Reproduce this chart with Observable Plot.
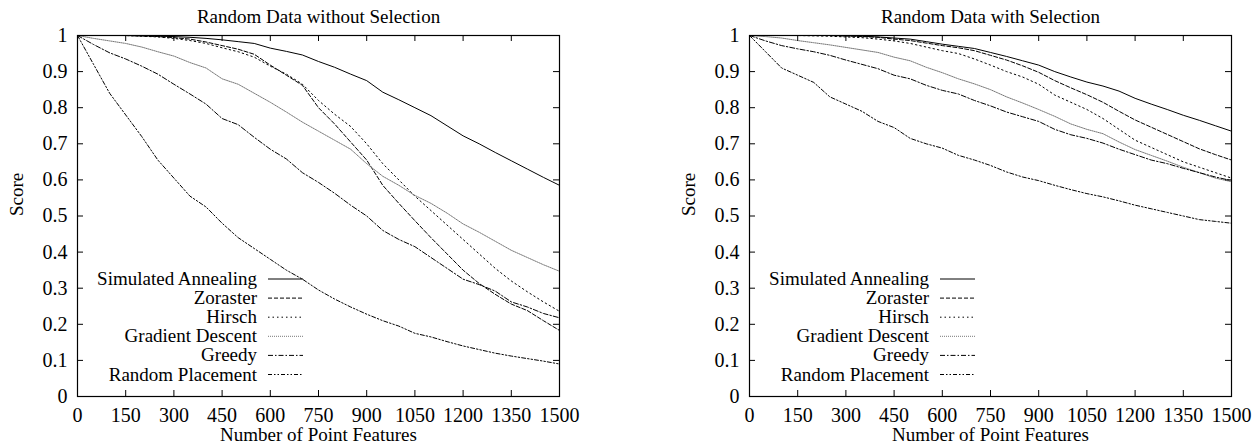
<!DOCTYPE html>
<html><head><meta charset="utf-8">
<script src="https://cdn.jsdelivr.net/npm/d3@7"></script>
<script src="https://cdn.jsdelivr.net/npm/@observablehq/plot@0.6"></script>
<style>
body{margin:0;background:#fff;}
#wrap{display:flex;width:1258px;height:444px;background:#fff;}
</style></head><body><div id="wrap"></div>
<script>
const features = [0,50,100,150,200,250,300,350,400,450,500,550,600,650,700,750,800,850,900,950,1000,1050,1100,1150,1200,1250,1300,1350,1400,1450,1500];
const seriesNames = ["Simulated Annealing","Zoraster","Hirsch","Gradient Descent","Greedy","Random Placement"];
const xTicks = [0,150,300,450,600,750,900,1050,1200,1350,1500];
const yTicks = [0,0.1,0.2,0.3,0.4,0.5,0.6,0.7,0.8,0.9,1];
const titles = ["Random Data without Selection","Random Data with Selection"];
const xLabel = "Number of Point Features";
const yLabel = "Score";

// Random Data without Selection
const noSelSA   = [1,1,1,1,0.999,0.998,0.997,0.995,0.992,0.988,0.983,0.978,0.965,0.956,0.946,0.928,0.912,0.893,0.875,0.843,0.822,0.8,0.778,0.75,0.722,0.7,0.676,0.653,0.63,0.607,0.585];
const noSelZor  = [1,1,1,1,0.999,0.997,0.994,0.99,0.982,0.972,0.962,0.948,0.918,0.89,0.862,0.8,0.755,0.705,0.655,0.585,0.535,0.487,0.44,0.395,0.35,0.313,0.283,0.256,0.238,0.21,0.183];
const noSelHir  = [1,1,1,1,0.998,0.996,0.992,0.986,0.978,0.966,0.955,0.94,0.915,0.893,0.865,0.82,0.782,0.748,0.7,0.645,0.6,0.555,0.515,0.475,0.435,0.395,0.355,0.32,0.29,0.262,0.236];
const noSelGD   = [1,0.992,0.985,0.978,0.968,0.955,0.943,0.925,0.91,0.88,0.865,0.84,0.815,0.788,0.76,0.735,0.71,0.685,0.645,0.61,0.585,0.557,0.535,0.508,0.478,0.455,0.43,0.405,0.385,0.365,0.347];
const noSelGr   = [1,0.975,0.952,0.935,0.915,0.893,0.865,0.838,0.81,0.77,0.753,0.718,0.685,0.658,0.62,0.593,0.563,0.53,0.5,0.46,0.435,0.415,0.385,0.355,0.325,0.31,0.292,0.262,0.248,0.23,0.218];
const noSelRand = [1,0.92,0.84,0.78,0.72,0.655,0.605,0.555,0.525,0.48,0.44,0.41,0.38,0.35,0.325,0.295,0.27,0.248,0.228,0.21,0.195,0.175,0.165,0.152,0.14,0.13,0.12,0.112,0.105,0.098,0.09];

// Random Data with Selection
const selSA   = [1,1,1,1,1,1,0.999,0.998,0.996,0.993,0.99,0.983,0.976,0.97,0.964,0.953,0.942,0.93,0.918,0.9,0.885,0.871,0.86,0.846,0.826,0.81,0.795,0.779,0.765,0.75,0.735];
const selZor  = [1,1,1,1,1,1,0.999,0.997,0.995,0.99,0.986,0.979,0.972,0.966,0.958,0.945,0.932,0.916,0.898,0.875,0.855,0.836,0.815,0.79,0.766,0.746,0.726,0.706,0.686,0.67,0.655];
const selHir  = [1,1,1,1,0.999,0.998,0.996,0.994,0.99,0.985,0.978,0.968,0.958,0.95,0.935,0.918,0.9,0.885,0.865,0.835,0.815,0.795,0.77,0.74,0.71,0.69,0.67,0.65,0.635,0.62,0.605];
const selGD   = [1,0.997,0.993,0.986,0.98,0.974,0.967,0.96,0.953,0.94,0.93,0.912,0.897,0.88,0.866,0.85,0.83,0.813,0.795,0.776,0.755,0.74,0.728,0.705,0.684,0.668,0.652,0.635,0.62,0.605,0.595];
const selGr   = [1,0.985,0.972,0.963,0.955,0.945,0.932,0.92,0.908,0.89,0.88,0.862,0.848,0.838,0.82,0.805,0.788,0.775,0.762,0.74,0.725,0.715,0.702,0.685,0.67,0.655,0.645,0.632,0.62,0.608,0.598];
const selRand = [1,0.955,0.91,0.89,0.87,0.83,0.81,0.79,0.762,0.745,0.715,0.70,0.688,0.668,0.655,0.64,0.622,0.608,0.598,0.585,0.573,0.562,0.553,0.542,0.53,0.52,0.51,0.5,0.49,0.485,0.48];

const styles = [
  {stroke:"#000", dash:null},
  {stroke:"#000", dash:"4,2"},
  {stroke:"#000", dash:"1.5,3"},
  {stroke:"#777", dash:"1,1"},
  {stroke:"#000", dash:"5,2,1.5,2"},
  {stroke:"#000", dash:"4,2,1.5,2,1.5,2"}
];

const W = 629, H = 444, MT = 35, MB = 48;
const STYLE = 'font-family:"Liberation Serif","Times New Roman",serif;font-size:19px;background:#fff;color:#000;overflow:visible;';

function makeChart(title, seriesValues, ml, mr) {
  const innerW = W - ml - mr, innerH = H - MT - MB;
  const lineMarks = seriesValues.map((vals, i) => {
    const rows = features.map((f, j) => ({x: f, y: vals[j], s: seriesNames[i]}));
    return Plot.line(rows, {x: "x", y: "y", stroke: styles[i].stroke, strokeWidth: 1,
      strokeDasharray: styles[i].dash || undefined});
  });
  const svg = Plot.plot({
    width: W, height: H,
    marginLeft: ml, marginRight: mr, marginTop: MT, marginBottom: MB,
    style: STYLE,
    x: {domain: [0, 1500]},
    y: {domain: [0, 1]},
    marks: [
      ...lineMarks,
      Plot.ruleX(xTicks, {x: d => d, insetTop: innerH - 6, stroke: "#000"}),
      Plot.ruleX(xTicks, {x: d => d, insetBottom: innerH - 6, stroke: "#000"}),
      Plot.ruleY(yTicks, {y: d => d, insetRight: innerW - 6, stroke: "#000"}),
      Plot.ruleY(yTicks, {y: d => d, insetLeft: innerW - 6, stroke: "#000"}),
      Plot.frame({stroke: "#000", strokeWidth: 1.2}),
      Plot.axisX({ticks: xTicks, anchor: "bottom", tickSize: 0, tickPadding: 11, label: null, tickFormat: d => String(d), fill: "#000", fontSize: 20}),
      Plot.axisY({ticks: yTicks, anchor: "left", tickSize: 0, tickPadding: 10, label: null, tickFormat: d => String(d), fill: "#000", fontSize: 20}),
      Plot.text([title], {text: d => d, frameAnchor: "top", dy: -19, lineAnchor: "middle", fill: "#000"}),
      Plot.text([yLabel], {text: d => d, frameAnchor: "left", dx: -61, rotate: -90, lineAnchor: "middle", fill: "#000"}),
      Plot.text([xLabel], {text: d => d, frameAnchor: "bottom", dy: 38, lineAnchor: "middle", fill: "#000"})
    ]
  });
  // legend (inside plot, lower left)
  const g = d3.select(svg).append("g");
  seriesNames.forEach((name, i) => {
    const cy = 279 + i * 19.1;
    g.append("text").attr("x", ml + 180).attr("y", cy).attr("dy", "0.32em")
      .attr("text-anchor", "end").attr("fill", "#000").text(name);
    g.append("line").attr("x1", ml + 191).attr("x2", ml + 226).attr("y1", cy).attr("y2", cy)
      .attr("stroke", styles[i].stroke).attr("stroke-width", 1)
      .attr("stroke-dasharray", styles[i].dash);
  });
  return svg;
}

const wrap = document.getElementById("wrap");
wrap.appendChild(makeChart(titles[0], [noSelSA, noSelZor, noSelHir, noSelGD, noSelGr, noSelRand], 77, 70));
wrap.appendChild(makeChart(titles[1], [selSA, selZor, selHir, selGD, selGr, selRand], 120, 27));
</script></body></html>
